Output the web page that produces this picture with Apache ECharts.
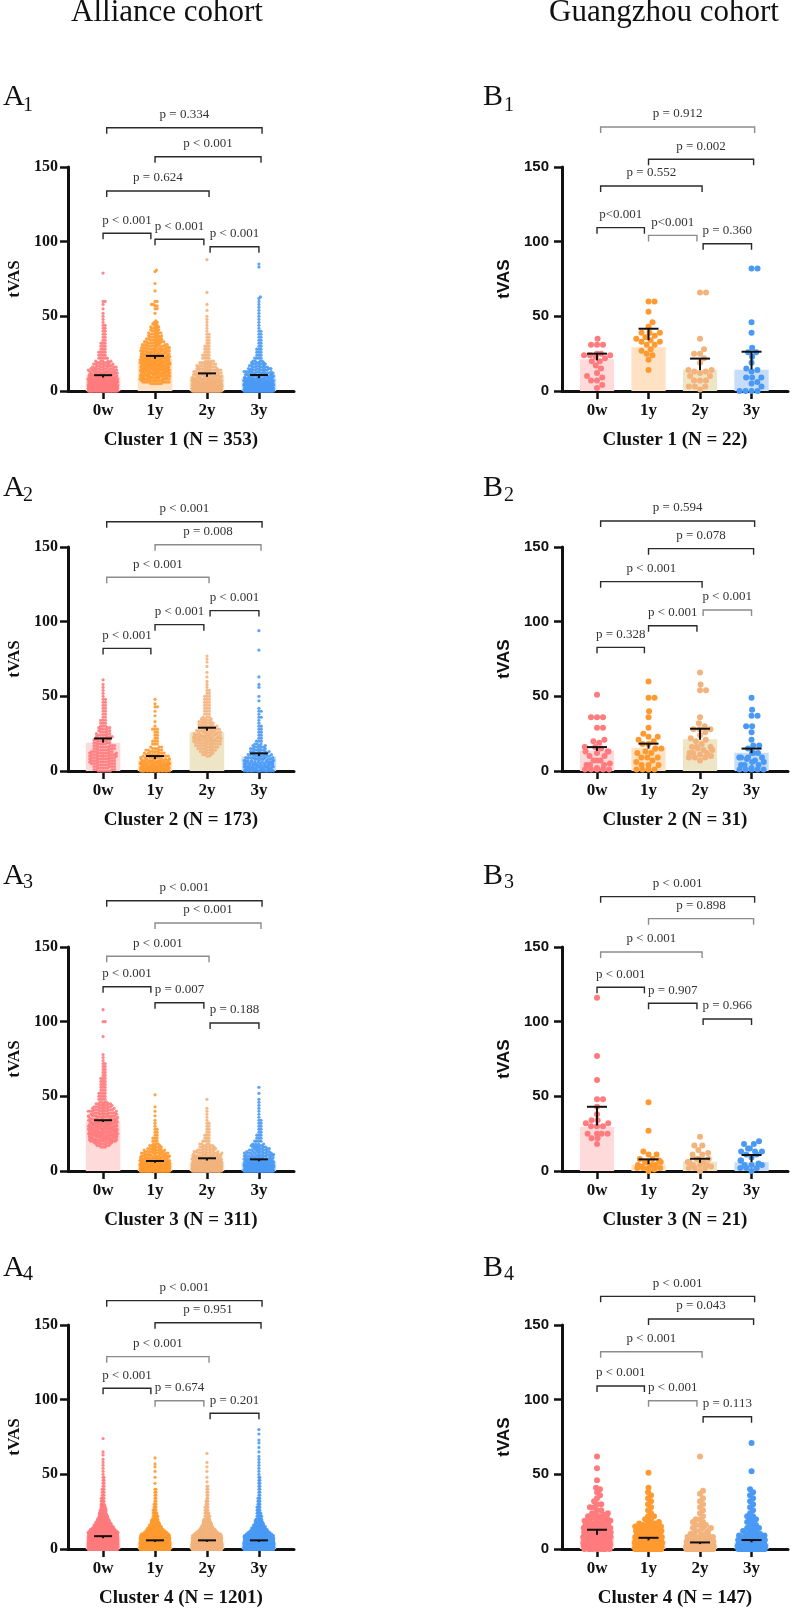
<!DOCTYPE html>
<html>
<head>
<meta charset="utf-8" />
<title>tVAS by cluster</title>
<script src="https://cdn.jsdelivr.net/npm/echarts@6.0.0/dist/echarts.min.js"></script>
<style>html,body{margin:0;padding:0;background:#fff}</style>
</head>
<body>
<div id="main" style="width:792px;height:1614px"></div>
<script>
var times = ['0w', '1y', '2y', '3y'];
var dotColors = ['#FF7B7D', '#FF9A30', '#F3B37C', '#4A9AF5'];
var barColors = ['#FFDADB', '#FFE1C3', '#EDE5C6', '#C6DCF8'];

// ---- Alliance cohort: [tVAS, number of patients] ----
var a1_0w = [[0,39],[1,30],[2,30],[3,25],[4,22],[5,20],[6,18],[7,16],[8,15],[9,13],[10,12],[11,11],[12,10],[13,9],[14,8],[15,8],[16,7],[17,6],[18,6],[19,5],[20,5],[22,5],[24,4],[26,4],[28,3],[30,3],[32,3],[34,2],[36,2],[38,2],[40,2],[42,2],[44,2],[46,1],[48,1],[50,1],[52,1],[55,1],[58,1],[60,2],[79,1]];
var a1_1y = [[5,6],[6,8],[7,9],[8,10],[9,11],[10,11],[11,11],[12,12],[13,12],[14,13],[15,13],[16,13],[17,13],[18,13],[19,12],[20,12],[21,11],[22,12],[23,11],[24,11],[25,10],[26,9],[27,9],[28,8],[29,8],[30,7],[31,7],[32,6],[33,6],[34,5],[35,5],[36,5],[37,4],[38,4],[39,4],[40,3],[41,3],[42,3],[43,3],[44,2],[45,2],[46,2],[47,1],[52,1],[55,2],[57,2],[58,2],[60,2],[67,1],[72,1],[80,1],[81,1]];
var a1_2y = [[0,45],[1,33],[2,31],[3,27],[4,23],[5,20],[6,18],[7,16],[8,14],[9,12],[10,11],[11,10],[12,9],[13,8],[14,8],[15,7],[16,6],[17,6],[18,5],[19,5],[20,4],[22,4],[24,4],[26,3],[28,3],[30,3],[32,2],[34,2],[36,2],[38,2],[40,1],[42,1],[44,1],[46,1],[48,1],[50,1],[54,1],[58,1],[66,1],[88,1]];
var a1_3y = [[0,49],[1,35],[2,30],[3,26],[4,22],[5,19],[6,17],[7,15],[8,13],[9,12],[10,11],[11,10],[12,9],[13,8],[14,7],[15,7],[16,6],[17,5],[18,5],[19,4],[20,4],[22,4],[24,3],[26,3],[28,3],[30,2],[32,2],[34,2],[36,2],[38,2],[40,2],[42,1],[44,1],[46,1],[48,1],[50,1],[52,1],[54,1],[56,1],[58,1],[60,1],[62,1],[63,1],[83,1],[85,1]];

var a2_0w = [[0,6],[1,4],[2,5],[3,5],[4,5],[5,6],[6,6],[7,6],[8,6],[9,6],[10,8],[11,6],[12,7],[13,5],[14,5],[15,5],[16,5],[17,5],[18,4],[19,4],[20,4],[21,4],[22,4],[23,4],[24,4],[25,3],[26,3],[27,3],[28,3],[29,3],[30,3],[32,3],[34,3],[36,2],[38,2],[40,2],[42,2],[44,2],[46,2],[48,2],[50,1],[52,1],[54,1],[56,1],[58,1],[61,1]];
var a2_1y = [[0,21],[1,15],[2,14],[3,13],[4,12],[5,11],[6,10],[7,9],[8,8],[9,7],[10,6],[11,5],[12,5],[13,4],[14,4],[15,3],[16,3],[18,3],[20,3],[22,2],[24,2],[26,2],[28,3],[30,1],[33,1],[37,1],[40,1],[43,2],[45,1],[48,1]];
var a2_2y = [[10,2],[11,3],[12,3],[13,4],[14,4],[15,5],[16,5],[17,6],[18,6],[19,6],[20,8],[21,8],[22,8],[23,8],[24,7],[25,7],[26,6],[27,6],[28,6],[29,5],[30,5],[31,4],[32,4],[33,4],[34,3],[35,3],[36,3],[38,3],[40,3],[42,3],[44,3],[46,3],[48,3],[50,3],[52,2],[54,2],[56,1],[58,1],[60,1],[63,1],[66,1],[70,1],[73,1],[75,1],[77,1]];
var a2_3y = [[0,17],[1,12],[2,12],[3,11],[4,11],[5,10],[6,9],[7,8],[8,8],[9,7],[10,6],[11,6],[12,5],[13,5],[14,4],[15,4],[16,4],[17,3],[18,3],[20,3],[22,2],[24,2],[26,2],[28,2],[30,2],[32,1],[34,1],[36,2],[38,1],[40,2],[42,1],[47,1],[50,1],[56,1],[58,1],[63,1],[81,1],[94,1]];

var a3_0w = [[16,3],[17,4],[18,5],[19,6],[20,9],[21,10],[22,10],[23,11],[24,12],[25,12],[26,11],[27,11],[28,11],[29,11],[30,11],[31,11],[32,11],[33,11],[34,10],[35,10],[36,9],[37,10],[38,9],[39,8],[40,8],[41,7],[42,6],[43,6],[44,5],[45,5],[46,4],[48,4],[50,4],[52,4],[54,3],[56,3],[58,3],[60,3],[62,3],[64,2],[66,2],[68,2],[70,2],[72,2],[74,1],[76,1],[78,1],[90,1],[100,2],[108,1]];
var a3_1y = [[0,50],[1,36],[2,30],[3,26],[4,22],[5,19],[6,16],[7,14],[8,12],[9,11],[10,10],[11,9],[12,8],[13,7],[14,6],[15,5],[16,4],[17,4],[18,3],[20,3],[22,3],[24,2],[26,2],[28,2],[30,1],[32,1],[34,1],[37,1],[40,1],[43,1],[51,1]];
var a3_2y = [[0,45],[1,32],[2,28],[3,25],[4,22],[5,19],[6,17],[7,15],[8,13],[9,12],[10,11],[11,9],[12,8],[13,7],[14,6],[15,5],[16,5],[17,4],[18,4],[20,4],[22,3],[24,3],[26,2],[28,2],[30,2],[32,2],[34,1],[36,1],[38,1],[40,1],[42,1],[48,1]];
var a3_3y = [[0,47],[1,32],[2,28],[3,24],[4,21],[5,18],[6,16],[7,14],[8,12],[9,11],[10,10],[11,9],[12,8],[13,7],[14,6],[15,6],[16,5],[17,5],[18,4],[20,4],[22,3],[24,3],[26,2],[28,2],[30,2],[32,2],[34,2],[36,1],[38,1],[40,1],[42,1],[44,1],[46,1],[48,1],[52,1],[56,1]];

var a4_0w = [[0,166],[1,120],[2,103],[3,91],[4,81],[5,68],[6,60],[7,54],[8,48],[9,43],[10,39],[11,35],[12,31],[13,28],[14,25],[15,22],[16,20],[17,18],[18,16],[19,14],[20,13],[21,11],[22,10],[23,9],[24,8],[25,7],[26,7],[27,6],[28,5],[29,5],[30,4],[32,4],[34,4],[36,3],[38,3],[40,3],[42,2],[44,2],[46,2],[48,2],[50,1],[52,1],[54,1],[56,1],[58,1],[60,1],[63,1],[65,1],[74,1]];
var a4_1y = [[0,230],[1,160],[2,130],[3,110],[4,90],[5,75],[6,62],[7,52],[8,44],[9,37],[10,31],[11,26],[12,22],[13,19],[14,16],[15,14],[16,12],[17,10],[18,9],[19,8],[20,7],[22,6],[24,5],[26,4],[28,3],[30,3],[32,2],[34,2],[36,2],[38,2],[40,2],[44,1],[48,1],[52,1],[55,1],[57,1],[61,1]];
var a4_2y = [[0,242],[1,165],[2,130],[3,108],[4,88],[5,73],[6,60],[7,50],[8,42],[9,35],[10,30],[11,25],[12,21],[13,18],[14,15],[15,13],[16,11],[17,10],[18,9],[19,8],[20,7],[22,6],[24,5],[26,4],[28,4],[30,3],[32,3],[34,2],[36,2],[38,2],[40,2],[42,2],[45,1],[48,1],[52,1],[55,1],[58,1],[64,1]];
var a4_3y = [[0,237],[1,170],[2,130],[3,105],[4,85],[5,70],[6,58],[7,48],[8,40],[9,34],[10,29],[11,25],[12,21],[13,18],[14,16],[15,14],[16,12],[17,10],[18,9],[19,8],[20,7],[22,6],[24,5],[26,4],[28,4],[30,3],[32,3],[34,3],[36,2],[38,2],[40,2],[42,2],[44,2],[46,2],[48,2],[50,1],[52,1],[54,1],[56,1],[58,1],[60,1],[62,1],[65,1],[68,1],[71,1],[73,1],[77,1],[80,1]];

// ---- Guangzhou cohort: individual tVAS values ----
var b1_0w = [35,31,31,31,25,25,24,24,24,23,22,20,20,17,15,12,10,9,7,7,4,2];
var b1_1y = [60,60,53,46,43,39,39,39,37,36,35,34,33,33,31,31,28,27,25,24,21,14];
var b1_2y = [66,66,35,28,25,25,22,19,14,14,13,13,12,10,10,7,7,7,3,3,3,1];
var b1_3y = [82,82,46,39,29,26,26,23,19,15,14,13,9,9,9,6,5,3,0,0,0,0];

var b2_0w = [51,36,36,36,29,29,21,20,19,16,16,15,13,13,13,12,10,10,7,7,7,5,4,4,4,2,1,1,1,1,1];
var b2_1y = [60,49,49,40,36,29,25,23,23,21,20,18,18,15,15,15,13,12,12,9,9,9,7,6,4,4,4,1,1,1,1];
var b2_2y = [66,58,54,54,36,32,30,28,28,28,26,24,22,21,20,18,16,16,16,15,14,14,12,12,12,11,10,9,9,9,7];
var b2_3y = [49,41,37,37,30,30,26,21,17,17,15,12,12,12,9,9,9,9,8,7,6,6,4,4,4,2,1,1,1,1,1];

var b3_0w = [116,77,61,48,48,43,38,34,34,32,32,30,30,30,25,25,25,25,22,22,18];
var b3_1y = [46,27,13,11,11,8,8,7,6,6,6,4,4,4,3,2,2,2,2,1,0];
var b3_2y = [23,17,17,14,12,11,11,8,8,8,6,6,6,4,4,4,3,2,2,2,0];
var b3_3y = [20,18,18,15,15,13,13,13,11,11,9,7,7,5,4,4,4,2,2,2,0];

var b4_0w = [[0,10],[1,10],[2,9],[3,9],[4,8],[5,8],[6,7],[7,7],[8,6],[9,6],[10,5],[11,5],[12,5],[13,5],[14,5],[15,4],[16,3],[17,3],[18,3],[19,3],[20,3],[21,2],[22,2],[23,2],[24,2],[26,2],[28,2],[30,2],[32,1],[34,1],[36,1],[38,1],[40,1],[41,1],[46,1],[54,1],[62,1]];
var b4_1y = [[0,24],[1,15],[2,13],[3,11],[4,10],[5,9],[6,8],[7,7],[8,6],[9,5],[10,4],[11,4],[12,3],[13,3],[14,3],[15,3],[16,2],[17,2],[18,2],[20,2],[22,2],[24,1],[26,1],[28,1],[30,1],[32,1],[34,1],[36,1],[38,1],[41,1],[51,1]];
var b4_2y = [[0,39],[1,20],[2,15],[3,12],[4,10],[5,8],[6,6],[7,5],[8,4],[9,3],[10,3],[12,3],[14,3],[16,3],[18,2],[20,2],[22,1],[24,1],[26,1],[28,1],[30,1],[32,1],[34,1],[37,1],[39,1],[62,1]];
var b4_3y = [[0,38],[1,21],[2,14],[3,11],[4,9],[5,7],[6,6],[7,5],[8,4],[9,4],[10,3],[12,3],[14,3],[16,2],[18,2],[20,2],[22,2],[24,1],[26,1],[28,1],[30,1],[32,1],[34,1],[36,1],[38,1],[40,1],[52,1],[71,1]];

// bar height, error bar low end and cap, per time point
var a1Bar = [9.6, 21.5, 9.6, 8.6], a1Lo = [9, 21.5, 9.5, 8.6], a1Hi = [10.6, 23.5, 11.8, 10.7];
var a2Bar = [18.9, 7.1, 26, 9.6], a2Lo = [19, 8, 27, 10], a2Hi = [21.8, 10, 29, 11.8];
var a3Bar = [33, 5.6, 6, 6], a3Lo = [32.8, 5.5, 7, 6.5], a3Hi = [34, 6.7, 8.5, 7.8];
var a4Bar = [9, 4.7, 4.7, 4.5], a4Lo = [7.2, 4.8, 4.8, 4.8], a4Hi = [8.6, 5.8, 5.8, 5.8];
var b1Bar = [21.2, 29.3, 14, 14.2], b1Lo = [20.5, 34, 14, 14.5], b1Hi = [25, 41.7, 21.7, 26.3];
var b2Bar = [13.8, 15.6, 21.2, 12.3], b2Lo = [13.5, 15, 21, 12], b2Hi = [16, 18.3, 28.3, 15];
var b3Bar = [29.6, 4.4, 6.2, 5.8], b3Lo = [30.5, 4.5, 5.5, 6], b3Hi = [43, 7.8, 8.2, 10.7];
var b4Bar = [8.9, 6.2, 2.7, 4], b4Lo = [9.5, 5.8, 3.3, 4.5], b4Hi = [12.9, 7.5, 4.4, 6];

// comparisons: 0w-3y, 1y-3y, 0w-2y, 0w-1y, 1y-2y, 2y-3y
var a1P = ['p = 0.334', 'p < 0.001', 'p = 0.624', 'p < 0.001', 'p < 0.001', 'p < 0.001'];
var a2P = ['p < 0.001', 'p = 0.008', 'p < 0.001', 'p < 0.001', 'p < 0.001', 'p < 0.001'];
var a3P = ['p < 0.001', 'p < 0.001', 'p < 0.001', 'p < 0.001', 'p = 0.007', 'p = 0.188'];
var a4P = ['p < 0.001', 'p = 0.951', 'p < 0.001', 'p < 0.001', 'p = 0.674', 'p = 0.201'];
var b1P = ['p = 0.912', 'p = 0.002', 'p = 0.552', 'p<0.001', 'p<0.001', 'p = 0.360'];
var b2P = ['p = 0.594', 'p = 0.078', 'p < 0.001', 'p = 0.328', 'p < 0.001', 'p < 0.001'];
var b3P = ['p < 0.001', 'p = 0.898', 'p < 0.001', 'p < 0.001', 'p = 0.907', 'p = 0.966'];
var b4P = ['p < 0.001', 'p = 0.043', 'p < 0.001', 'p < 0.001', 'p < 0.001', 'p = 0.113'];
// bracket heights (tVAS units) and grey flag
var a1Brk = [176.3, 156.9, 133.9, 105.6, 101.6, 96.6], a1Grey = [0,0,0,0,0,0];
var a2Brk = [166.9, 151.5, 129.7, 82.1, 98.0, 107.4], a2Grey = [0,1,1,0,0,0];
var a3Brk = [181.0, 166.1, 143.8, 123.4, 112.7, 99.1], a3Grey = [0,1,1,0,0,0];
var a4Brk = [166.3, 151.5, 128.8, 107.6, 99.3, 90.9], a4Grey = [0,0,1,0,1,0];
var b1Brk = [176.8, 155.2, 137.3, 109.4, 104.2, 98.6], b1Grey = [1,0,0,0,1,0];
var b2Brk = [167.4, 148.9, 126.8, 82.8, 97.3, 107.8], b2Grey = [0,0,0,0,0,1];
var b3Brk = [183.7, 169.0, 146.7, 123.0, 112.3, 101.8], b3Grey = [0,1,1,0,0,0];
var b4Brk = [169.2, 154.0, 132.1, 109.2, 99.3, 88.6], b4Grey = [0,0,1,0,1,0];

function expand(pairs) {
  var out = [];
  pairs.forEach(function (p) { for (var i = 0; i < p[1]; i++) out.push(p[0]); });
  return out;
}

// gap = spacing between dot centres in the swarm (px)
var panels = [
  { col: 0, row: 0, title: 'Cluster 1 (N = 353)', groups: [a1_0w, a1_1y, a1_2y, a1_3y].map(expand), bar: a1Bar, lo: a1Lo, hi: a1Hi, p: a1P, brk: a1Brk, grey: a1Grey, tag: '1', gap: 2.1 },
  { col: 0, row: 1, title: 'Cluster 2 (N = 173)', groups: [a2_0w, a2_1y, a2_2y, a2_3y].map(expand), bar: a2Bar, lo: a2Lo, hi: a2Hi, p: a2P, brk: a2Brk, grey: a2Grey, tag: '2', gap: 2.4 },
  { col: 0, row: 2, title: 'Cluster 3 (N = 311)', groups: [a3_0w, a3_1y, a3_2y, a3_3y].map(expand), bar: a3Bar, lo: a3Lo, hi: a3Hi, p: a3P, brk: a3Brk, grey: a3Grey, tag: '3', gap: 2.1 },
  { col: 0, row: 3, title: 'Cluster 4 (N = 1201)', groups: [a4_0w, a4_1y, a4_2y, a4_3y].map(expand), bar: a4Bar, lo: a4Lo, hi: a4Hi, p: a4P, brk: a4Brk, grey: a4Grey, tag: '4', gap: 0.9 },
  { col: 1, row: 0, title: 'Cluster 1 (N = 22)', groups: [b1_0w, b1_1y, b1_2y, b1_3y], bar: b1Bar, lo: b1Lo, hi: b1Hi, p: b1P, brk: b1Brk, grey: b1Grey, tag: '1', gap: 6 },
  { col: 1, row: 1, title: 'Cluster 2 (N = 31)', groups: [b2_0w, b2_1y, b2_2y, b2_3y], bar: b2Bar, lo: b2Lo, hi: b2Hi, p: b2P, brk: b2Brk, grey: b2Grey, tag: '2', gap: 6 },
  { col: 1, row: 2, title: 'Cluster 3 (N = 21)', groups: [b3_0w, b3_1y, b3_2y, b3_3y], bar: b3Bar, lo: b3Lo, hi: b3Hi, p: b3P, brk: b3Brk, grey: b3Grey, tag: '3', gap: 6 },
  { col: 1, row: 3, title: 'Cluster 4 (N = 147)', groups: [b4_0w, b4_1y, b4_2y, b4_3y].map(expand), bar: b4Bar, lo: b4Lo, hi: b4Hi, p: b4P, brk: b4Brk, grey: b4Grey, tag: '4', gap: 4.2 }
];

// layout
var cols = [
  { left: 68, width: 226, xMin: -0.675, xMax: 3.675, tickFont: 'Liberation Serif', tickSize: 16, nameFont: 'Liberation Serif', yMargin: 10, nameGap: 45, dot: 3.2, half: 15, cap: 9, letter: 'A', lx: 3, sx: 23 },
  { left: 562, width: 226, xMin: -0.68, xMax: 3.708, tickFont: 'Liberation Sans', tickSize: 15, nameFont: 'Liberation Sans', yMargin: 13, nameGap: 49, dot: 6, half: 14, cap: 10, letter: 'B', lx: 483, sx: 504 }
];
var rowTops = [167, 547, 947, 1325];
var plotH = 224;
var letterBase = [[107, 113], [498, 503], [886, 890], [1278, 1282]];
var pairEnds = [[0.07, 3.06], [1.0, 3.04], [0.07, 2.04], [0.0, 0.92], [1.0, 1.94], [2.06, 3.0]];

function vdc(n) {
  var v = 0, den = 1; n = n + 1;
  while (n) { den *= 2; v += (n % 2) / den; n = Math.floor(n / 2); }
  return v;
}

// simple beeswarm: offsets in px, converted back to axis units
function swarm(vals, cat, d, maxHalf, pxX, pxY) {
  var s = vals.slice().sort(function (a, b) { return a - b; });
  var placed = [], out = [], fill = 0;
  for (var i = 0; i < s.length; i++) {
    var y = s[i] * pxY, nb = [];
    for (var j = placed.length - 1; j >= 0; j--) {
      if (y - placed[j][1] >= d) break;
      nb.push(placed[j]);
    }
    var x = null;
    if (nb.length <= 60) {
      var cand = [0];
      nb.forEach(function (p) {
        var dy = y - p[1];
        var dx = Math.sqrt(Math.max(d * d - dy * dy, 0));
        cand.push(p[0] + dx + 1e-4, p[0] - dx - 1e-4);
      });
      cand.sort(function (a, b) { return Math.abs(a) - Math.abs(b); });
      for (var c = 0; c < cand.length && x === null; c++) {
        var cx = cand[c];
        if (Math.abs(cx) > maxHalf) continue;
        var ok = true;
        for (var k = 0; k < nb.length; k++) {
          var ddx = cx - nb[k][0], ddy = y - nb[k][1];
          if (ddx * ddx + ddy * ddy < d * d - 0.01) { ok = false; break; }
        }
        if (ok) x = cx;
      }
    }
    if (x === null) x = (2 * vdc(fill++) - 1) * maxHalf;
    placed.push([x, y]);
    out.push([cat + x / pxX, s[i]]);
  }
  return out;
}

var grids = [], xAxes = [], yAxes = [], series = [];
var graphics = [
  { type: 'text', x: 167, y: 13, style: { text: 'Alliance cohort', font: '31px "Liberation Serif"', fill: '#111', align: 'center', verticalAlign: 'middle' } },
  { type: 'text', x: 664, y: 13, style: { text: 'Guangzhou cohort', font: '31px "Liberation Serif"', fill: '#111', align: 'center', verticalAlign: 'middle' } }
];

panels.forEach(function (p, i) {
  var c = cols[p.col];
  var pxX = c.width / (c.xMax - c.xMin);
  var pxY = plotH / 150;

  grids.push({ left: c.left, top: rowTops[p.row], width: c.width, height: plotH });
  xAxes.push({
    type: 'value', gridIndex: i, min: c.xMin, max: c.xMax,
    name: p.title, nameLocation: 'middle', nameGap: 40,
    nameTextStyle: { fontFamily: 'Liberation Serif', fontWeight: 'bold', fontSize: 19, color: '#111' },
    axisLine: { onZero: false, lineStyle: { color: '#111', width: 3 } },
    axisTick: { customValues: [0, 1, 2, 3], length: 8, lineStyle: { color: '#111', width: 2.5 } },
    axisLabel: {
      customValues: [0, 1, 2, 3], margin: 11, color: '#111',
      fontFamily: 'Liberation Serif', fontWeight: 'bold', fontSize: 17,
      formatter: function (v) { return times[Math.round(v)]; }
    },
    splitLine: { show: false }
  });
  yAxes.push({
    type: 'value', gridIndex: i, min: 0, max: 150, interval: 50,
    name: 'tVAS', nameLocation: 'middle', nameRotate: 90, nameGap: c.nameGap,
    nameTextStyle: { fontFamily: c.nameFont, fontWeight: 'bold', fontSize: 17, color: '#111' },
    axisLine: { show: true, onZero: false, lineStyle: { color: '#111', width: 3 } },
    axisTick: { show: true, length: 8, lineStyle: { color: '#111', width: 2.5 } },
    axisLabel: { margin: c.yMargin, color: '#111', fontFamily: c.tickFont, fontWeight: 'bold', fontSize: c.tickSize },
    splitLine: { show: false }
  });

  // bars
  series.push({
    type: 'custom', xAxisIndex: i, yAxisIndex: i, z: 1, silent: true, clip: false,
    data: p.bar.map(function (v, k) { return [k, v]; }),
    renderItem: function (params, api) {
      var k = api.value(0), v = api.value(1);
      var a = api.coord([k - 0.333, v]), b = api.coord([k + 0.333, 0]);
      return { type: 'rect', shape: { x: a[0], y: a[1], width: b[0] - a[0], height: b[1] - a[1] }, style: { fill: barColors[k] } };
    }
  });

  // dots
  p.groups.forEach(function (vals, k) {
    series.push({
      type: 'scatter', xAxisIndex: i, yAxisIndex: i, z: 2, silent: true, clip: false,
      symbolSize: c.dot, itemStyle: { color: dotColors[k], opacity: p.col === 0 ? 0.9 : 1 },
      data: swarm(vals, k, p.gap, c.half, pxX, pxY)
    });
  });

  // error bars
  series.push({
    type: 'custom', xAxisIndex: i, yAxisIndex: i, z: 3, silent: true, clip: false,
    encode: { x: 0, y: [1, 2] },
    data: p.lo.map(function (lo, k) { return [k, lo, p.hi[k]]; }),
    renderItem: function (params, api) {
      var k = api.value(0);
      var l = api.coord([k, api.value(1)]), h = api.coord([k, api.value(2)]);
      var st = { stroke: '#111', lineWidth: 2 };
      return { type: 'group', children: [
        { type: 'line', shape: { x1: h[0], y1: l[1], x2: h[0], y2: h[1] }, style: st },
        { type: 'line', shape: { x1: h[0] - c.cap, y1: h[1], x2: h[0] + c.cap, y2: h[1] }, style: st }
      ] };
    }
  });

  // significance brackets
  series.push({
    type: 'custom', xAxisIndex: i, yAxisIndex: i, z: 3, silent: true, clip: false,
    encode: { x: [0, 1], y: 2 },
    data: p.brk.map(function (y, j) { return [pairEnds[j][0], pairEnds[j][1], y]; }),
    renderItem: function (params, api) {
      var j = params.dataIndex;
      var a = api.coord([api.value(0), api.value(2)]), b = api.coord([api.value(1), api.value(2)]);
      var col = p.grey[j] ? '#8c8c8c' : '#2a2a2a';
      return { type: 'group', children: [
        { type: 'polyline', shape: { points: [[a[0], a[1] + 6], [a[0], a[1]], [b[0], b[1]], [b[0], b[1] + 6]] }, style: { stroke: col, lineWidth: 1.4, fill: null } },
        { type: 'text', style: { text: p.p[j], x: (a[0] + b[0]) / 2, y: a[1] - 13, font: '13px "Liberation Serif"', fill: '#333', align: 'center', verticalAlign: 'middle' } }
      ] };
    }
  });

  // panel letter with subscript
  var lb = letterBase[p.row];
  graphics.push({ type: 'text', x: c.lx, y: lb[0] - 10, style: { text: c.letter, font: '30px "Liberation Serif"', fill: '#111', align: 'left', verticalAlign: 'middle' } });
  graphics.push({ type: 'text', x: c.sx, y: lb[1] - 7, style: { text: p.tag, font: '20px "Liberation Serif"', fill: '#111', align: 'left', verticalAlign: 'middle' } });
});

var myChart = echarts.init(document.getElementById('main'));
myChart.setOption({
  backgroundColor: '#fff',
  animation: false,
  grid: grids,
  xAxis: xAxes,
  yAxis: yAxes,
  series: series,
  graphic: graphics
});
</script>
</body>
</html>
